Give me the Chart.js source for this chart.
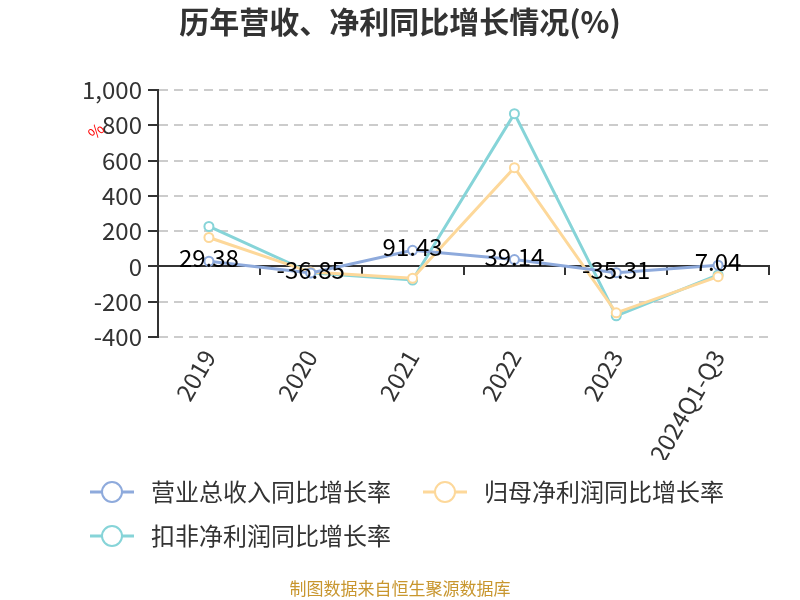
<!DOCTYPE html>
<html>
<head>
<meta charset="utf-8">
<script src="https://cdn.jsdelivr.net/npm/chart.js@4/dist/chart.umd.min.js"></script>
<style>
  html, body { margin: 0; padding: 0; background: #fff; }
  #wrap { width: 800px; height: 600px; }
</style>
</head>
<body>
<div id="wrap"><canvas id="growthChart" width="800" height="600"></canvas></div>
<script>
// data
const categories = ['2019', '2020', '2021', '2022', '2023', '2024Q1-Q3'];
const revenueGrowth = [29.38, -36.85, 91.43, 39.14, -35.31, 7.04];
const netProfitGrowth = [164, -32, -67, 560, -263, -58];
const deductedProfitGrowth = [227, -36, -77, 866, -280, -48];
const seriesNames = ['营业总收入同比增长率', '归母净利润同比增长率', '扣非净利润同比增长率'];
const seriesColors = ['#8eaadc', '#fdd89a', '#86d4d8'];
const yTicks = { min: -400, max: 1000, step: 200 };
const titleText = '历年营收、净利同比增长情况(%)';
const sourceText = '制图数据来自恒生聚源数据库';

const FONT = '"Noto Sans CJK SC", "Noto Sans", sans-serif';

// legend icon: short line with hollow circle (12px blank on the left for spacing)
const makeIcon = (color) => {
    const c = document.createElement('canvas');
    c.width = 61; c.height = 24;
    const g = c.getContext('2d');
    g.strokeStyle = color;
    g.lineWidth = 3;
    g.beginPath(); g.moveTo(12, 12); g.lineTo(56, 12); g.stroke();
    g.fillStyle = '#fff';
    g.lineWidth = 2;
    g.beginPath(); g.arc(34, 12, 10, 0, Math.PI * 2); g.fill(); g.stroke();
    return c;
};

// title, source line, value labels on the revenue line, red "%" axis name
const textPlugin = {
    id: 'texts',
    afterDatasetsDraw(chart) {
        const ctx = chart.ctx;
        const meta = chart.getDatasetMeta(0);
        ctx.save();
        ctx.font = '24px ' + FONT;
        ctx.fillStyle = '#000';
        ctx.textAlign = 'center';
        ctx.textBaseline = 'middle';
        meta.data.forEach((pt, i) => {
            ctx.fillText(revenueGrowth[i].toFixed(2), pt.x, pt.y - 3);
        });
        ctx.restore();

        ctx.save();
        ctx.translate(96, 131);
        ctx.rotate(-Math.PI / 4);
        ctx.font = '16px ' + FONT;
        ctx.fillStyle = '#f00';
        ctx.textAlign = 'center';
        ctx.textBaseline = 'middle';
        ctx.fillText('%', 0, 0);
        ctx.restore();
    },
    afterDraw(chart) {
        const ctx = chart.ctx;
        ctx.save();
        ctx.textAlign = 'center';
        ctx.textBaseline = 'middle';
        ctx.font = 'bold 30px ' + FONT;
        ctx.fillStyle = '#333';
        ctx.fillText(titleText, 400, 22);
        ctx.font = '17px ' + FONT;
        ctx.fillStyle = '#c8962e';
        ctx.fillText(sourceText, 400, 589);
        ctx.restore();
    }
};

const makeDataset = (label, data, color) => ({
    label: label,
    data: data,
    borderColor: color,
    backgroundColor: '#fff',
    borderWidth: 3,
    pointRadius: 4.5,
    pointBorderWidth: 2,
    pointBackgroundColor: '#fff',
    pointBorderColor: color,
    pointStyle: 'circle',
    tension: 0,
    fill: false
});

const ctx = document.getElementById('growthChart').getContext('2d');
new Chart(ctx, {
    type: 'line',
    data: {
        labels: categories,
        datasets: [
            makeDataset(seriesNames[0], revenueGrowth, seriesColors[0]),
            makeDataset(seriesNames[1], netProfitGrowth, seriesColors[1]),
            makeDataset(seriesNames[2], deductedProfitGrowth, seriesColors[2])
        ]
    },
    options: {
        responsive: false,
        animation: false,
        layout: { padding: { left: 58, right: 31, top: 90, bottom: 42 } },
        plugins: {
            title: { display: false },
            legend: {
                position: 'bottom',
                align: 'start',
                labels: {
                    color: '#333',
                    font: { family: FONT, size: 24 },
                    usePointStyle: true,
                    pointStyleWidth: 61,
                    padding: 20,
                    generateLabels: (chart) => chart.data.datasets.map((ds, i) => ({
                        text: ds.label,
                        pointStyle: makeIcon(seriesColors[i]),
                        fillStyle: '#fff',
                        strokeStyle: seriesColors[i],
                        lineWidth: 0,
                        datasetIndex: i,
                        fontColor: '#333'
                    }))
                }
            },
            tooltip: { enabled: false }
        },
        scales: {
            x: {
                type: 'category',
                offset: true,
                grid: { display: false },
                border: { display: false },
                ticks: {
                    color: '#333',
                    font: { family: FONT, size: 24 },
                    minRotation: 60,
                    maxRotation: 60,
                    padding: 0
                },
                afterFit: (scale) => { scale.height = 123; }
            },
            x2: {
                type: 'category',
                labels: categories,
                offset: true,
                position: { y: 0 },
                grid: {
                    display: true,
                    offset: true,
                    drawOnChartArea: false,
                    drawTicks: true,
                    tickLength: 8,
                    color: '#333',
                    lineWidth: 2
                },
                border: { display: true, color: '#333', width: 2 },
                ticks: { display: false }
            },
            y: {
                min: yTicks.min,
                max: yTicks.max,
                ticks: {
                    stepSize: yTicks.step,
                    color: '#333',
                    font: { family: FONT, size: 24 },
                    padding: 6
                },
                grid: {
                    color: '#ccc',
                    lineWidth: 2,
                    tickColor: '#333',
                    tickLength: 10,
                    tickBorderDash: []
                },
                border: { display: true, color: '#333', width: 2, dash: [9, 6] },
                afterFit: (scale) => { scale.width = 100; }
            }
        }
    },
    plugins: [textPlugin]
});
</script>
</body>
</html>
